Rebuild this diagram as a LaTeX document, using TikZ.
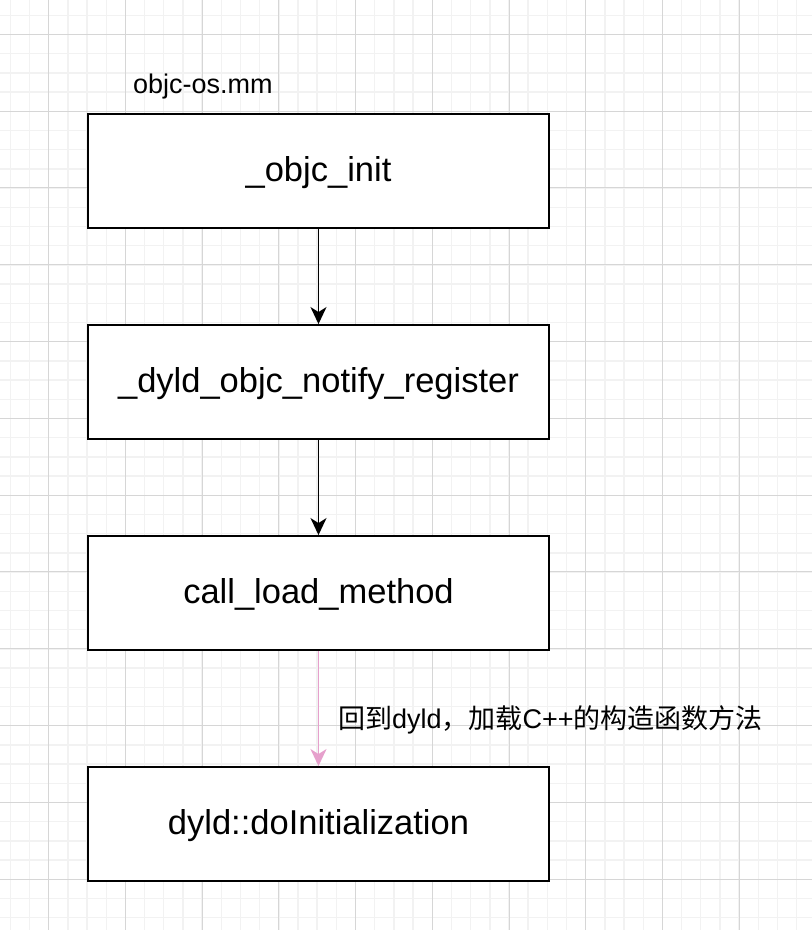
\documentclass[tikz,border=0pt]{standalone}
\usepackage{fontspec}
\setmainfont{Liberation Sans}
\newfontfamily\cjk{Noto Sans CJK SC}
\usetikzlibrary{arrows.meta,positioning}
\definecolor{gridmajor}{RGB}{214,214,214}
\definecolor{gridminor}{RGB}{242,242,242}
\definecolor{notepink}{RGB}{230,160,204}

\begin{document}
\begin{tikzpicture}[x=1pt,y=-1pt,
      box/.style={draw,line width=1.9pt,fill=white,minimum width=461pt,minimum height=114pt,inner sep=0pt,
        font=\fontsize{34.5}{40}\selectfont,text height=24.7pt,text depth=3.3pt},
      lbl/.style={inner sep=0pt,font=\fontsize{27}{32}\selectfont},
      flow/.style={line width=1.8pt,-{Stealth[length=17pt,width=16pt,inset=5pt]}}]
    \useasboundingbox (0,0) rectangle (812,930);
    % Grid
    \fill[white] (0,0) rectangle (812,930);
    \foreach \i in {0,...,42}{\draw[gridminor,line width=1.4pt] ({10.3+19.18*\i},0) -- ++(0,930);}
    \foreach \i in {0,...,48}{\draw[gridminor,line width=1.4pt] (0,{-3.9+19.2*\i}) -- ++(812,0);}
    \foreach \i in {0,...,10}{\draw[gridmajor,line width=0.9pt] ({48.7+76.73*\i},0) -- ++(0,930);}
    \foreach \i in {0,...,11}{\draw[gridmajor,line width=0.9pt] (0,{34.3+76.8*\i}) -- ++(812,0);}
    % Steps
    \node[box] (init)   at (318.5,171) {\_objc\_init};
    \node[box] (reg)    at (318.5,382) {\_dyld\_objc\_notify\_register};
    \node[box] (load)   at (318.5,593) {call\_load\_method};
    \node[box] (doinit) at (318.5,824) {dyld::doInitialization};
    % Labels
    \node[lbl,anchor=base west] (file) at (133,93) {objc-os.mm};
    \node[lbl,anchor=base west] (note) at (338,728) {{\cjk 回到}dyld{\cjk ，加载}C++{\cjk 的构造函数方法}};
    % Flow
    \foreach \a/\b in {init/reg,reg/load}{\draw[flow](\a)--(\b);}
    \draw[flow,notepink] (load)--(doinit);
  \end{tikzpicture}
\end{document}
